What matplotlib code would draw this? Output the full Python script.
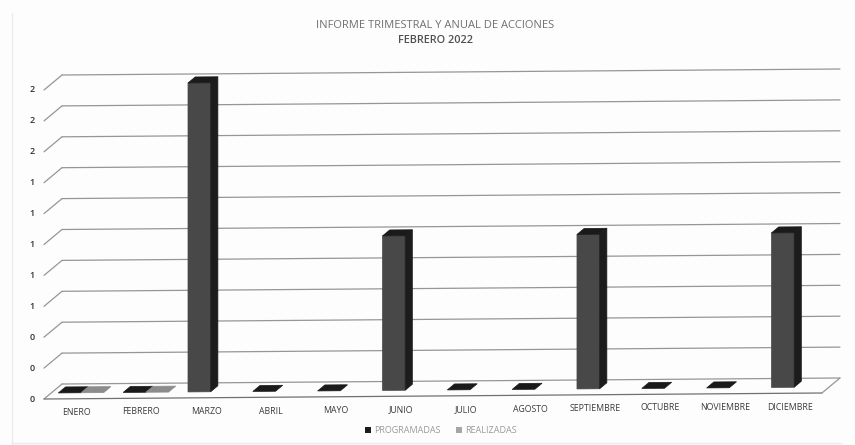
import matplotlib
matplotlib.use("Agg")
import matplotlib.pyplot as plt
from matplotlib.patches import Polygon, Patch

plt.rcParams['font.family'] = ['Open Sans', 'DejaVu Sans']

meses = ["ENERO", "FEBRERO", "MARZO", "ABRIL", "MAYO", "JUNIO", "JULIO", "AGOSTO",
         "SEPTIEMBRE", "OCTUBRE", "NOVIEMBRE", "DICIEMBRE"]
programadas = [0, 0, 2, 0, 0, 1, 0, 0, 1, 0, 0, 1]
realizadas = [0, 0, None, None, None, None, None, None, None, None, None, None]
niveles = [0, 0.2, 0.4, 0.6, 0.8, 1.0, 1.2, 1.4, 1.6, 1.8, 2.0]
etiquetas_y = ["0", "0", "0", "1", "1", "1", "1", "1", "2", "2", "2"]

W, H = 855, 445
# px per unit, the page is scanned a bit crooked so everything leans up to the right
px_x, px_y = 64.83, 154.5
x0, y0 = 44, 399
tilt = 6 / 12 / px_y
dx, dy = 18 / px_x, 15 / px_y

fig = plt.figure(figsize=(W / 100, H / 100), dpi=100, facecolor="#fdfdfd")
ax = fig.add_axes([0, 0, 1, 1])
ax.set_xlim(-x0 / px_x, (W - x0) / px_x)
ax.set_ylim(-(H - y0) / px_y, y0 / px_y)
ax.axis("off")


def pt(c, v, d=0.0):
    # category position, value, depth (0 front of floor, 1 back wall)
    return (c + d * dx, v + c * tilt + d * dy)


def linea(a, b, color="#969696", lw=0.9):
    ax.plot([a[0], b[0]], [a[1], b[1]], color=color, lw=lw, solid_capstyle="round", zorder=1)


# floor and grid
n = len(meses)
for v, lab in zip(niveles, etiquetas_y):
    linea(pt(0, v, 0), pt(0, v, 1))
    linea(pt(0, v, 1), pt(n, v, 1))
    ax.text(-12 / px_x, v, lab, ha="center", va="center", fontsize=6.5, color="#303030",
            fontweight="semibold")
linea(pt(0, 0, 0), pt(n, 0, 0), color="#707070")
linea(pt(n, 0, 0), pt(n, 0, 1))


def barra(c, v, off, frente, lado, tapa):
    w = 0.35
    d1, d2 = 0.4, 0.8
    a, b = c + off, c + off + w
    if v > 0:
        ax.add_patch(Polygon([pt(a, 0, d1), pt(b, 0, d1), pt(b, v, d1), pt(a, v, d1)],
                             fc=frente, ec=frente, lw=0.5, zorder=3))
        ax.add_patch(Polygon([pt(b, 0, d1), pt(b, 0, d2), pt(b, v, d2), pt(b, v, d1)],
                             fc=lado, ec=lado, lw=0.5, zorder=3))
    ax.add_patch(Polygon([pt(a, v, d1), pt(b, v, d1), pt(b, v, d2), pt(a, v, d2)],
                         fc=tapa, ec=tapa, lw=0.5, zorder=3))


for i in range(n):
    if programadas[i] is not None:
        barra(i, programadas[i], 0.11, "#484848", "#1c1c1c", "#1a1a1a")
    if realizadas[i] is not None:
        barra(i, realizadas[i], 0.46, "#9a9a9a", "#777777", "#8c8c8c")
    ax.text(i + 0.5, i * tilt - 13.5 / px_y, meses[i], ha="center", va="center",
            fontsize=6.3, color="#3a3a3a")

fig.text(435.5 / W, 1 - 26 / H, "INFORME TRIMESTRAL Y ANUAL DE ACCIONES", ha="center", va="center",
         fontsize=8.0, color="#707070")
fig.text(435.5 / W, 1 - 40.5 / H, "FEBRERO 2022", ha="center", va="center",
         fontsize=7.8, color="#505050", fontweight="semibold")

ax.legend(handles=[Patch(fc="#1c1c1c", label="PROGRAMADAS"), Patch(fc="#a5a5a5", label="REALIZADAS")],
          loc="center", bbox_to_anchor=(441 / W, 1 - 430.5 / H), ncol=2, frameon=False,
          fontsize=6.5, labelcolor="#9a9a9a", handlelength=0.6, handleheight=0.6,
          handletextpad=0.4, columnspacing=1.7)

# faint edge of the scanned chart box
ax.plot([pt(-0.49, -0.29)[0]] * 2, [-0.29, 2.5], color="#ececec", lw=1.0)
ax.plot([-0.49, 12.3], [-0.285, -0.285], color="#ececec", lw=1.0)

fig.savefig("out.png", dpi=100, facecolor=fig.get_facecolor())
